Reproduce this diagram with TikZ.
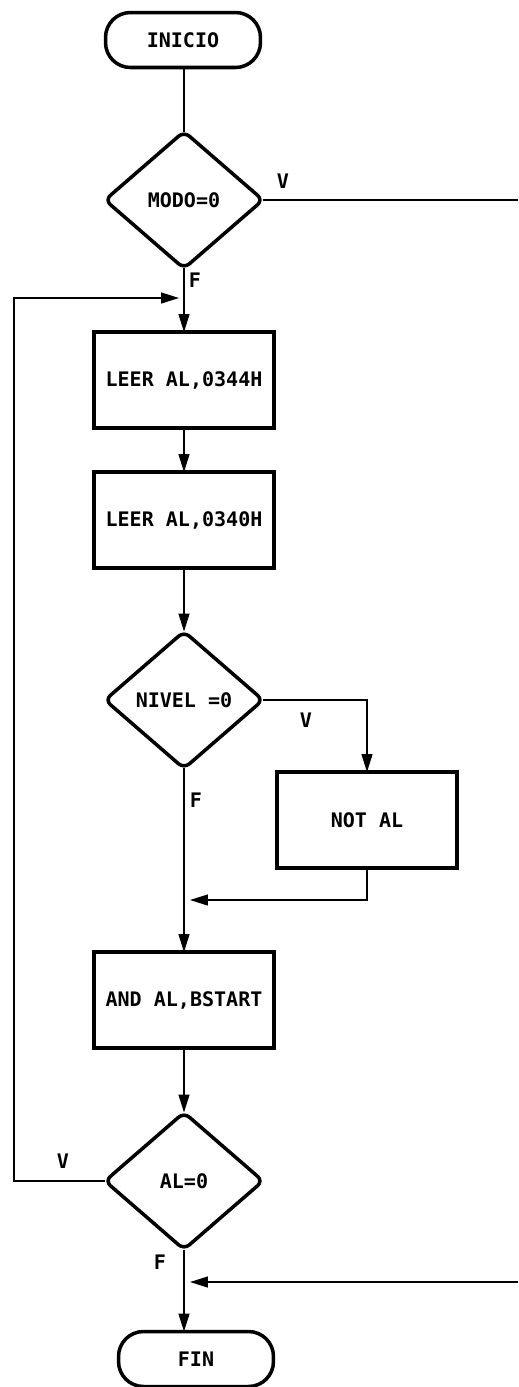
\documentclass[tikz,border=0pt]{standalone}
\usepackage{fontspec}
\setmonofont{DejaVu Sans Mono}
\usetikzlibrary{shapes.geometric, arrows.meta}
\tikzset{every picture/.style={line width=0.8pt}}

\begin{document}
\begin{tikzpicture}[x=0.02cm, y=-0.02cm, >={Triangle[length=0.36cm, width=0.22cm]},
        every node/.style={font=\ttfamily\bfseries\fontsize{11.4}{13}\selectfont},
        term/.style={draw, line width=2pt, outer sep=0pt, rounded corners=0.5cm, minimum width=3.1cm, minimum height=1.1cm},
        proc/.style={draw, line width=2.2pt, outer sep=0pt, minimum width=3.6cm, minimum height=1.92cm},
        cond/.style={diamond, draw, line width=2pt, outer sep=0pt, rounded corners=4pt, minimum width=3.16cm, minimum height=2.74cm, inner sep=1pt}]
        \useasboundingbox (0,0) rectangle (518,1387);
        % nodes
        \node[term] (inicio) at (183, 40)   {INICIO};
        \node[cond] (modo)   at (184, 200)  {MODO=0};
        \node[proc] (leer1)  at (184, 380)  {LEER AL,0344H};
        \node[proc] (leer2)  at (184, 520)  {LEER AL,0340H};
        \node[cond] (nivel)  at (184, 700)  {NIVEL =0};
        \node[proc] (notal)  at (367, 820)  {NOT AL};
        \node[proc] (andal)  at (184, 1000) {AND AL,BSTART};
        \node[cond] (al)     at (184, 1181) {AL=0};
        \node[term] (fin)    at (196, 1359) {FIN};
        % helper points
        \coordinate (eastA) at (518, 200);
        \coordinate (eastB) at (518, 1282);
        \coordinate (loopL) at (14, 1181);
        \coordinate (loopT) at (179, 298);
        \coordinate (joinA) at (190, 900);
        \coordinate (joinB) at (190, 1282);
        % connectors
        \draw (inicio.south -| modo.north) -- (modo.north);
        \draw (modo.east) -- (eastA);
        \draw[->] (modo.south) -- (leer1.north);
        \draw[->] (leer1) -- (leer2);
        \draw[->] (leer2) -- (nivel);
        \draw[->] (nivel.east) -| (notal.north);
        \draw[->] (notal.south) |- (joinA);
        \draw[->] (nivel.south) -- (nivel.south |- andal.north);
        \draw[->] (andal.south) -- (al.north);
        \draw[->] (al.west) -- (loopL) |- (loopT);
        \draw[->] (al.south) -- (al.south |- fin.north);
        \draw[->] (eastB) -- (joinB);
        % labels
        \node at (283, 181)  {V};
        \node at (195, 280)  {F};
        \node at (306, 720)  {V};
        \node at (196, 800)  {F};
        \node at (63, 1161)  {V};
        \node at (160, 1262) {F};
    \end{tikzpicture}
\end{document}
